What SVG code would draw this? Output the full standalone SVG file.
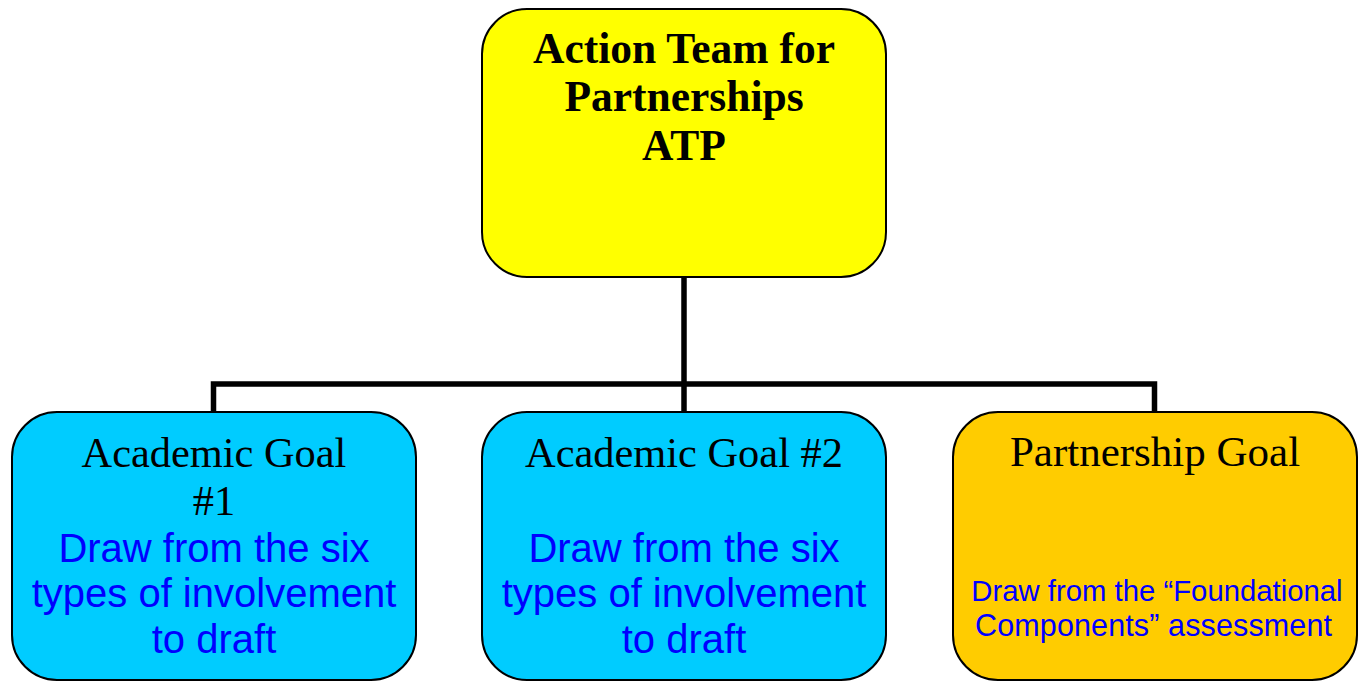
<svg xmlns="http://www.w3.org/2000/svg" width="1363" height="681" viewBox="0 0 1363 681">
<style>
.box{stroke:#000;stroke-width:2}
.serif{font-family:"Liberation Serif","Times New Roman",serif;fill:#000;text-anchor:middle}
.sans{font-family:"Liberation Sans",Arial,sans-serif;fill:#0000FF;text-anchor:middle}
.conn{stroke:#000;stroke-width:5.5;fill:none}
</style>
<rect width="1363" height="681" fill="#fff"/>
<g id="connectors">
<path class="conn" d="M684 277 V384"/>
<path class="conn" d="M213.5 412 V384 H1154.5 V412"/>
<path class="conn" d="M684 384 V412"/>
</g>
<g id="atp">
<rect class="box" x="482" y="9" width="404" height="268" rx="45" ry="45" fill="#FFFF00"/>
<text class="serif" font-size="43.5" font-weight="bold"><tspan x="684" y="63">Action Team for</tspan><tspan x="684" y="111">Partnerships</tspan><tspan x="684" y="160">ATP</tspan></text>
</g>
<g id="goal1">
<rect class="box" x="12" y="412" width="404" height="268" rx="45" ry="45" fill="#00CCFF"/>
<text class="serif" font-size="42.4"><tspan x="214" y="467">Academic Goal</tspan><tspan x="214" y="515">#1</tspan></text>
<text class="sans" font-size="40"><tspan x="214" y="562">Draw from the six</tspan><tspan x="214" y="607">types of involvement</tspan><tspan x="214" y="653">to draft</tspan></text>
</g>
<g id="goal2">
<rect class="box" x="482" y="412" width="404" height="268" rx="45" ry="45" fill="#00CCFF"/>
<text class="serif" font-size="42.4"><tspan x="684" y="467">Academic Goal #2</tspan></text>
<text class="sans" font-size="40"><tspan x="684" y="562">Draw from the six</tspan><tspan x="684" y="607">types of involvement</tspan><tspan x="684" y="653">to draft</tspan></text>
</g>
<g id="partnership">
<rect class="box" x="953" y="412" width="404" height="268" rx="45" ry="45" fill="#FFCC00"/>
<text class="serif" font-size="43"><tspan x="1155" y="466">Partnership Goal</tspan></text>
<text class="sans" font-size="29.3" x="1157" y="601">Draw from the “Foundational</text>
<text class="sans" font-size="30.5" x="1153.5" y="636" textLength="357" lengthAdjust="spacing">Components” assessment</text>
</g>
</svg>
